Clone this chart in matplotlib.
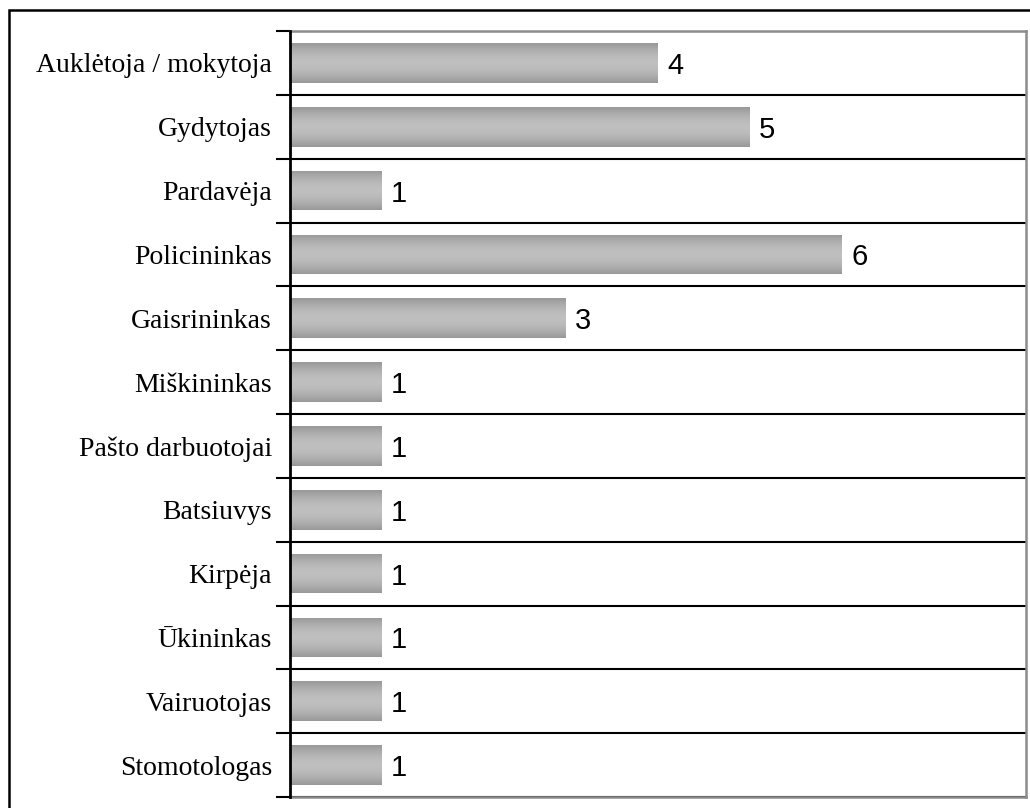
import matplotlib
matplotlib.use('Agg')
import matplotlib.pyplot as plt
import numpy as np
from matplotlib.patches import Rectangle

plt.rcParams['font.family'] = ['Liberation Serif', 'DejaVu Serif']

categories = ['Auklėtoja / mokytoja', 'Gydytojas', 'Pardavėja', 'Policininkas',
              'Gaisrininkas', 'Miškininkas', 'Pašto darbuotojai', 'Batsiuvys',
              'Kirpėja', 'Ūkininkas', 'Vairuotojas', 'Stomotologas']
values = [4, 5, 1, 6, 3, 1, 1, 1, 1, 1, 1, 1]

W, H = 1030, 808
fig = plt.figure(figsize=(W / 100, H / 100), dpi=100)

# outer frame (cut off at right and bottom)
fig.patches.append(Rectangle((9 / W, -0.05), 1.1, 1 - 10 / H + 0.05, transform=fig.transFigure,
                             fill=False, edgecolor='black', linewidth=1.8))

ax = fig.add_axes([290 / W, 11 / H, 736 / W, 766 / H])
y = np.arange(len(categories))

bars = ax.barh(y, values, height=0.62, color='none', edgecolor='none', zorder=3)

# vertical gradient: darker at edges, lighter in the middle
t = np.linspace(0, 1, 64)
shade = 0.60 + 0.15 * np.sin(np.pi * t)
grad = np.dstack([shade, shade, shade]).reshape(64, 1, 3)
for b in bars:
    x0, y0 = b.get_x(), b.get_y()
    w, h = b.get_width(), b.get_height()
    im = ax.imshow(grad, extent=(x0, x0 + w, y0 + h, y0), aspect='auto', zorder=3,
                   interpolation='bicubic')
    im.set_clip_path(b)

for yi, v in zip(y, values):
    ax.text(v + 0.1, yi, str(v), va='center_baseline', ha='left', fontsize=21,
            family=['Liberation Sans', 'DejaVu Sans'], zorder=4)

ax.set_xlim(0, 8)
ax.set_ylim(len(categories) - 0.5, -0.5)
ax.set_yticks(y)
ax.set_yticklabels(categories, fontsize=20)
ax.set_yticks(np.arange(-0.5, len(categories)), minor=True)
ax.tick_params(axis='y', which='major', length=0, pad=13)
ax.tick_params(axis='y', which='minor', length=10, width=1.5, color='black', direction='out')
ax.set_xticks([])
ax.grid(axis='y', which='minor', color='black', linewidth=1.5, zorder=1)

for s in ['top', 'right', 'bottom']:
    ax.spines[s].set_color('#8c8c8c')
    ax.spines[s].set_linewidth(1.8)
ax.spines['left'].set_color('black')
ax.spines['left'].set_linewidth(2)
ax.spines['left'].set_zorder(5)
ax.set_axisbelow(True)

fig.savefig('out.png', dpi=100)
